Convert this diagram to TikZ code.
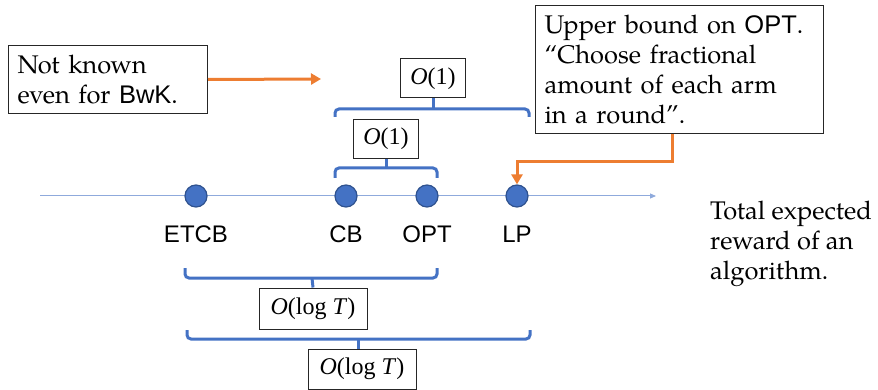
\documentclass[tikz,border=0pt]{standalone}
\usepackage{fontspec}
\setmainfont{TeX Gyre Pagella}
\setsansfont{Liberation Sans}
\newfontfamily\boundfont{Liberation Serif}
\usetikzlibrary{arrows.meta}
\definecolor{braceblue}{HTML}{4472C4}
\definecolor{dotedge}{HTML}{2F528F}
\definecolor{axisblue}{HTML}{8FAADC}
\definecolor{accent}{HTML}{ED7D31}
\begin{document}
\begin{tikzpicture}[x=1pt,y=-1pt,
  every node/.style={font=\fontsize{25.5}{30}\selectfont},
  dot/.style={circle, fill=braceblue, draw=dotedge, line width=1.2pt, minimum size=22pt, inner sep=0pt},
  ptlabel/.style={font=\sffamily\fontsize{24}{28}\selectfont, anchor=base},
  bound/.style={draw=black!85, line width=1pt, fill=white, inner sep=0pt, minimum height=39pt, font=\boundfont\fontsize{24}{28}\selectfont},
  note/.style={draw=black!85, line width=1pt, align=left, anchor=north west, inner xsep=9pt, inner ysep=0pt},
  brace/.style={draw=braceblue, line width=3pt, rounded corners=4pt},
  callout/.style={draw=accent, line width=3pt, -{Triangle[length=10pt,width=11pt]}}]
\useasboundingbox (0,0) rectangle (878,390);

% axis of total reward
\coordinate (axstart) at (40,196);
\coordinate (axend) at (656,196);
\draw[axisblue, line width=1pt, -{Triangle[length=6pt,width=5pt]}] (axstart) -- (axend);

% algorithms on the axis
\node[dot] (etcb) at (196,196) {};
\node[dot] (cb) at (346,196) {};
\node[dot] (opt) at (427,196) {};
\node[dot] (lp) at (517,196) {};
\node[ptlabel] (etcbl) at (196,242) {ETCB};
\node[ptlabel] (cbl) at (346,242) {CB};
\node[ptlabel] (optl) at (427,242) {OPT};
\node[ptlabel] (lpl) at (517,242) {LP};

% gap CB -- OPT
\node[bound, minimum width=65pt] (gapa) at (386,139) {\textit{O}(1)};
\coordinate (ba) at (386,168);
\draw[brace] (335,178) -- (335,168) -- (437,168) -- (437,178);
\draw[brace] (gapa.south) -- (ba);

% gap CB -- LP
\node[bound, minimum width=65pt] (gapb) at (433,78.5) {\textit{O}(1)};
\coordinate (bb) at (433,109);
\draw[brace] (335,117) -- (335,109) -- (529,109) -- (529,117);
\draw[brace] (gapb.south) -- (bb);

% gap ETCB -- OPT
\node[bound, minimum width=108pt, minimum height=41pt] (gapc) at (313,308.5) {\textit{O}(log \textit{T})};
\coordinate (bc) at (312,278);
\draw[brace] (185,268) -- (185,278) -- (437,278) -- (437,268);
\draw[brace] (gapc.north) -- (bc);

% gap ETCB -- LP
\node[bound, minimum width=108pt, minimum height=40pt] (gapd) at (362,369) {\textit{O}(log \textit{T})};
\coordinate (bd) at (358,339);
\draw[brace] (187,330) -- (187,339) -- (530,339) -- (530,330);
\draw[brace] (gapd.north -| bd) -- (bd);

% notes
\node[note, minimum width=199pt, minimum height=68pt, text width=181pt] (nk) at (8,45)
  {Not known\\even for \textsf{BwK}.};
\coordinate (nktip) at (321,79);
\draw[callout] (nk.east) -- (nktip);

\node[note, minimum width=288pt, minimum height=128pt, text width=270pt] (ub) at (535,5)
  {Upper bound on \textsf{OPT}.\\“Choose fractional\\amount of each arm\\in a round”.};
\coordinate (bend) at (672,162);
\draw[callout, rounded corners=0pt] (ub.south -| bend) -- (bend) -| (lp.north);

\node[align=left, anchor=north west, inner sep=0pt] (axlabel) at (710,201)
  {Total expected\\reward of an\\algorithm.};
\end{tikzpicture}
\end{document}
